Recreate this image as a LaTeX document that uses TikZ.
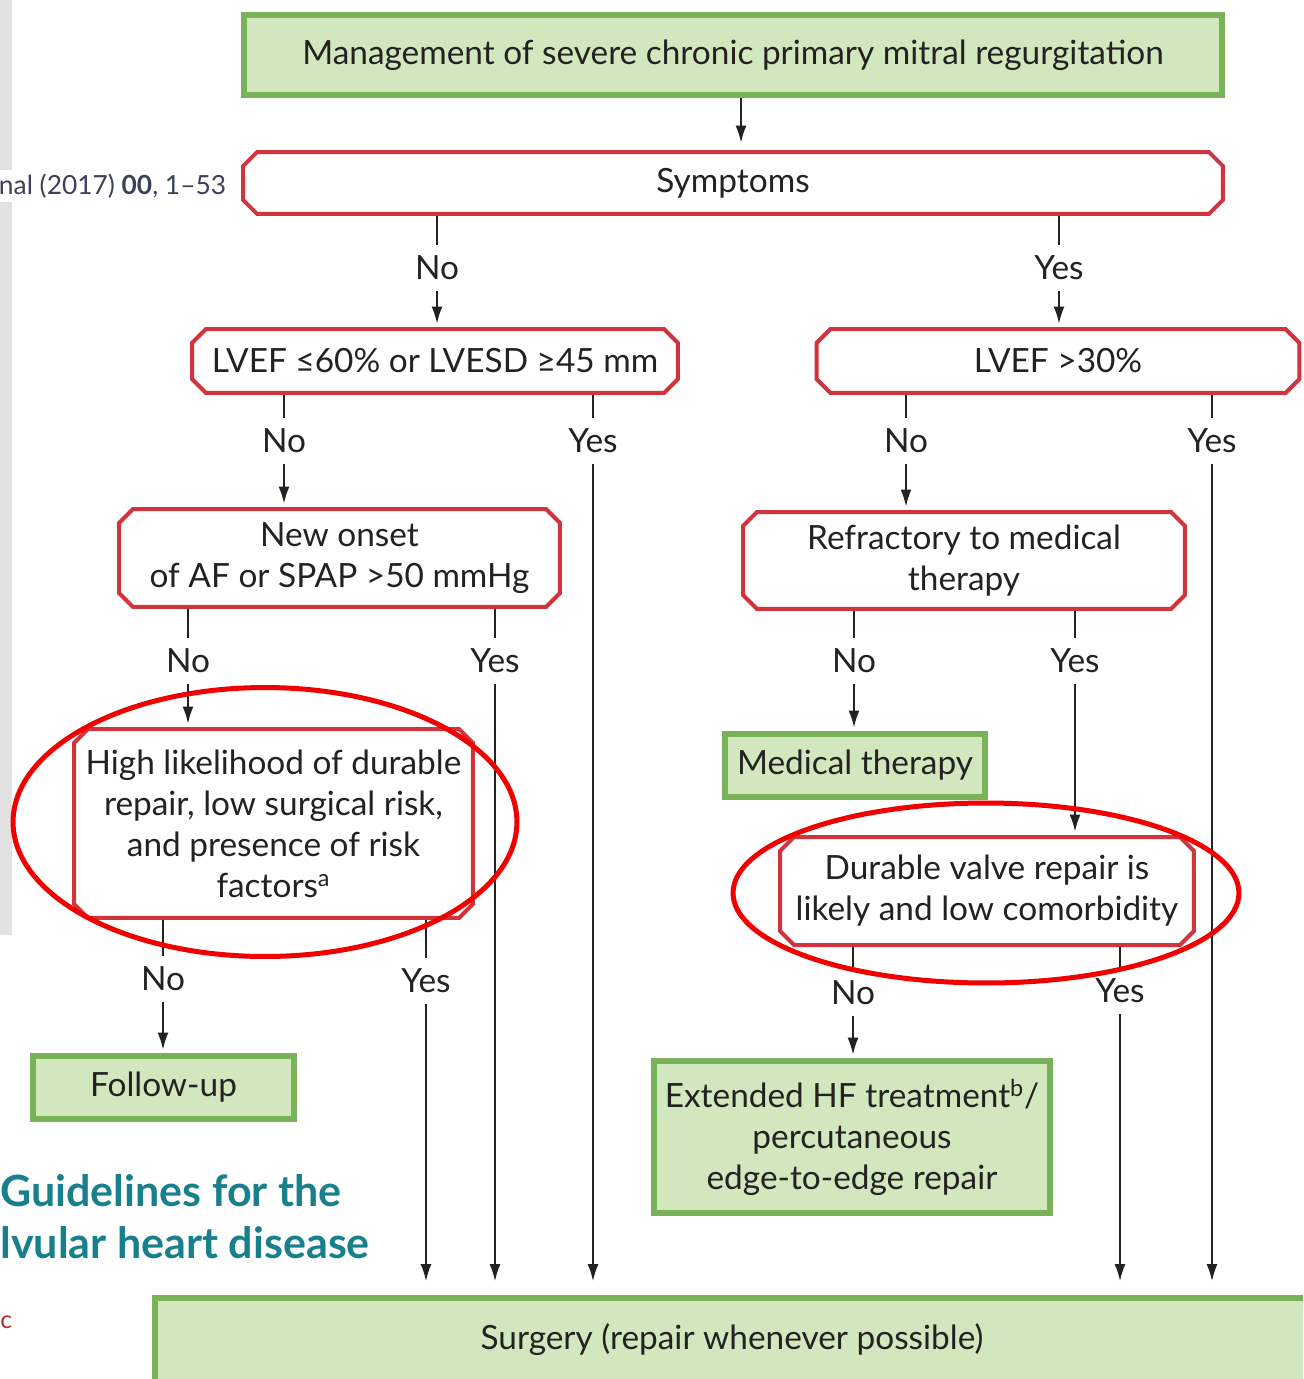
\documentclass[tikz,border=0pt]{standalone}
\usepackage{fontspec}
\setmainfont{Lato}
\usetikzlibrary{positioning,arrows.meta,shapes.misc,shapes.geometric}
\definecolor{greenStroke}{HTML}{7AB25A}
\definecolor{greenFill}{HTML}{D3E7BE}
\definecolor{redStroke}{HTML}{D2343E}
\definecolor{ringRed}{HTML}{F00000}
\definecolor{inkText}{HTML}{222222}
\definecolor{guideTeal}{HTML}{17808C}
\definecolor{citeInk}{HTML}{3A4258}
\definecolor{citeRed}{HTML}{B0302C}
\definecolor{stripGrey}{HTML}{E2E2E2}

\begin{document}
\begin{tikzpicture}[
  x=0.02cm, y=-0.02cm,
  font={\fontsize{19}{23.3}\selectfont},
  every node/.style={text=inkText},
  action/.style={draw=greenStroke, fill=greenFill, line width=0.12cm,
                 align=center, inner sep=0pt},
  query/.style={chamfered rectangle, chamfered rectangle xsep=0.14cm,
                chamfered rectangle ysep=0.14cm,
                draw=redStroke, fill=white, line width=0.08cm,
                align=center, inner sep=0pt},
  answer/.style={minimum height=0.9cm, inner sep=0pt},
  link/.style={line width=0.9pt, draw=inkText},
  flow/.style={link, -{Latex[length=0.34cm,width=0.22cm]}, shorten >=2pt},
  ring/.style={ellipse, draw=ringRed, line width=0.1cm, inner sep=0pt},
]
\useasboundingbox (0,0) rectangle (1303,1379);
\clip (0,0) rectangle (1303,1379);

% ---------------- PAGE BEHIND (cut-off screenshot) ----------------
\fill[stripGrey] (0,0) rectangle (12,935);
\node[anchor=east, fill=white, text=citeInk, inner sep=2pt,
      font={\fontsize{15}{18}\selectfont}] (CITE) at (230,186)
  {nal (2017) \textbf{00}, 1–53};
\node[anchor=west, text=guideTeal, inner sep=0pt,
      font={\fontsize{24.5}{28}\selectfont\bfseries}] (GUIDE1) at (0,1191)
  {Guidelines for the};
\node[anchor=west, text=guideTeal, inner sep=0pt,
      font={\fontsize{24.5}{28}\selectfont\bfseries}] (GUIDE2) at (0,1243)
  {lvular heart disease};
\node[anchor=west, text=citeRed, inner sep=0pt,
      font={\fontsize{14}{17}\selectfont}] (FRAG) at (0,1322) {c};

% ---------------- NODES (pixel grid) ----------------
\node[action, minimum width=19.58cm, minimum height=1.6cm] (TITLE) at (733,55)
  {Management of severe chronic primary mitral regurgitation};
\node[query, minimum width=19.6cm, minimum height=1.24cm] (SYMP) at (733,183) {Symptoms};

\node[query, minimum width=9.72cm, minimum height=1.28cm] (LV60) at (435,361)
  {LVEF ≤60\% or LVESD ≥45 mm};
\node[query, minimum width=9.66cm, minimum height=1.28cm] (LV30) at (1058,361)
  {LVEF >30\%};

\node[query, minimum width=8.82cm, minimum height=1.96cm] (ONSET) at (339.5,558)
  {New onset\\of AF or SPAP >50 mmHg};
\node[query, minimum width=8.84cm, minimum height=1.94cm] (REFR) at (964,560.5)
  {Refractory to medical\\therapy};

\node[query, minimum width=7.98cm, minimum height=3.78cm] (HIGH) at (273.5,823.5)
  {High likelihood of durable\\repair, low surgical risk,\\and presence of risk\\factors\textsuperscript{a}};
\node[action, minimum width=5.2cm, minimum height=1.26cm] (MED) at (855,765.5)
  {Medical therapy};
\node[query, minimum width=8.28cm, minimum height=2.16cm] (DUR) at (987,891)
  {Durable valve repair is\\likely and low comorbidity};

\node[action, minimum width=5.22cm, minimum height=1.26cm] (FOLLOW) at (163.5,1087.5)
  {Follow-up};
\node[action, minimum width=7.92cm, minimum height=3.04cm] (EXT) at (852,1137)
  {Extended HF treatment\textsuperscript{b}/\\percutaneous\\edge-to-edge repair};

\node[action, minimum width=23.08cm, minimum height=1.68cm] (SURG) at (732,1340)
  {Surgery (repair whenever possible)};

% answers
\node[answer] (N1) at (437,268) {No};
\node[answer] (Y1) at (1059,268) {Yes};
\node[answer] (N2) at (284,441) {No};
\node[answer] (Y2) at (593,441) {Yes};
\node[answer] (N3) at (906,441) {No};
\node[answer] (Y3) at (1212,441) {Yes};
\node[answer] (N4) at (188,661) {No};
\node[answer] (Y4) at (495,661) {Yes};
\node[answer] (N5) at (854,661) {No};
\node[answer] (Y5) at (1075,661) {Yes};
\node[answer] (N6) at (163,979) {No};
\node[answer] (Y6) at (426,981) {Yes};
\node[answer] (N7) at (853,993) {No};
\node[answer] (Y7) at (1120,991) {Yes};

% ---------------- EDGES ----------------
\draw[flow, shorten >=0.15cm] ([xshift=0.16cm]TITLE.south) -- ([xshift=0.16cm]SYMP.north);

\draw[link] (SYMP.south -| N1) -- (N1.north);
\draw[flow] (N1.south) -- (LV60.north -| N1);
\draw[link] (SYMP.south -| Y1) -- (Y1.north);
\draw[flow] (Y1.south) -- (LV30.north -| Y1);

\draw[link] (LV60.south -| N2) -- (N2.north);
\draw[flow] (N2.south) -- (ONSET.north -| N2);
\draw[link] (LV60.south -| Y2) -- (Y2.north);
\draw[flow, shorten >=0.28cm] (Y2.south) -- (SURG.north -| Y2);

\draw[link] (LV30.south -| N3) -- (N3.north);
\draw[flow] (N3.south) -- (REFR.north -| N3);
\draw[link] (LV30.south -| Y3) -- (Y3.north);
\draw[flow, shorten >=0.28cm] (Y3.south) -- (SURG.north -| Y3);

\draw[link] (ONSET.south -| N4) -- (N4.north);
\draw[flow] (N4.south) -- (HIGH.north -| N4);
\draw[link] (ONSET.south -| Y4) -- (Y4.north);
\draw[flow, shorten >=0.28cm] (Y4.south) -- (SURG.north -| Y4);

\draw[link] (REFR.south -| N5) -- (N5.north);
\draw[flow] (N5.south) -- (MED.north -| N5);
\draw[link] (REFR.south -| Y5) -- (Y5.north);
\draw[flow] (Y5.south) -- (DUR.north -| Y5);

\draw[link] (HIGH.south -| N6) -- (N6.north);
\draw[flow] (N6.south) -- (FOLLOW.north -| N6);
\draw[link] (HIGH.south -| Y6) -- (Y6.north);
\draw[flow, shorten >=0.28cm] (Y6.south) -- (SURG.north -| Y6);

\draw[link] (DUR.south -| N7) -- (N7.north);
\draw[flow] (N7.south) -- (EXT.north -| N7);
\draw[link] (DUR.south -| Y7) -- (Y7.north);
\draw[flow, shorten >=0.28cm] (Y7.south) -- (SURG.north -| Y7);

% ---------------- HIGHLIGHT RINGS (on top) ----------------
\node[ring, minimum width=10.08cm, minimum height=5.38cm] (RINGA) at (265,822) {};
\node[ring, minimum width=10.12cm, minimum height=3.6cm] (RINGB) at (986,893) {};
\end{tikzpicture}
\end{document}
